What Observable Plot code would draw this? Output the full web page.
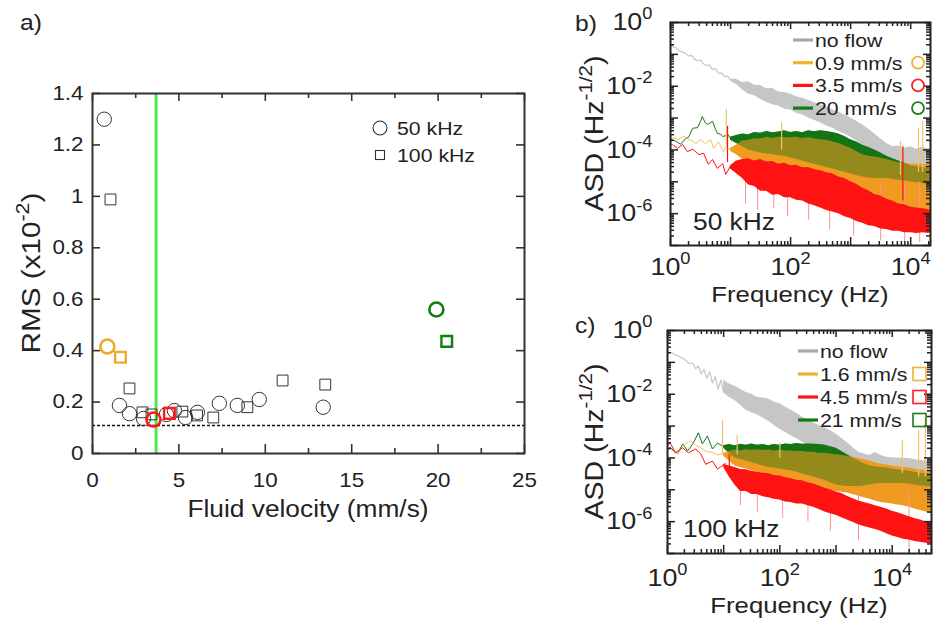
<!DOCTYPE html>
<html><head><meta charset="utf-8">
<script src="https://cdn.jsdelivr.net/npm/d3@7"></script>
<script src="https://cdn.jsdelivr.net/npm/@observablehq/plot@0.6"></script>
<style>
body{margin:0;background:#fff;}
#wrap{position:relative;width:933px;height:622px;overflow:hidden;background:#fff;}
#wrap svg{position:absolute;overflow:visible;}
</style></head><body><div id="wrap"></div>
<script>
const FONT = "'Liberation Sans', Arial, Helvetica, sans-serif";
const INK = "#222";
const SX = 1.12; // horizontal stretch of the lettering in the reference

// ---------------- Panel a data (RMS vs fluid velocity) ----------------
const vel50  = [0.68, 1.56, 2.14, 2.95, 4.28, 4.74, 5.38, 6.07, 7.34, 8.38, 9.65, 13.35];
const rms50  = [1.30, 0.187, 0.155, 0.136, 0.152, 0.167, 0.14, 0.16, 0.195, 0.187, 0.21, 0.18];
const vel100 = [1.04, 2.14, 2.89, 3.41, 5.2, 6.05, 6.99, 8.96, 11.0, 13.47];
const rms100 = [0.988, 0.253, 0.16, 0.152, 0.163, 0.148, 0.14, 0.18, 0.284, 0.268];
const selVel50  = [0.86, 3.53, 19.9];
const selRms50  = [0.416, 0.132, 0.56];
const selVel100 = [1.62, 4.45, 20.5];
const selRms100 = [0.374, 0.156, 0.436];
const selColors = ["#f0aa2a", "#ff1a1a", "#0f7f0f"];
const thresholdVelocity = 3.68;
const noiseFloorRMS = 0.109;
const xTicksA = [0, 5, 10, 15, 20, 25];
const xMinorA = [2.5, 7.5, 12.5, 17.5, 22.5];
const yTicksA = [0, 0.2, 0.4, 0.6, 0.8, 1, 1.2, 1.4];

// ---------------- Panel b data (50 kHz): log10(frequency), log10(ASD) ----------------
const bGrayLineF = [0,0.05,0.1,0.15,0.2,0.25,0.3,0.35,0.4,0.45,0.5,0.55,0.6,0.65,0.7,0.75,0.8,0.85,0.9,0.95,1.0];
const bGrayLineV = [-0.70,-0.78,-0.80,-0.90,-0.92,-0.97,-1.05,-1.03,-1.15,-1.20,-1.18,-1.30,-1.35,-1.33,-1.48,-1.45,-1.60,-1.58,-1.70,-1.68,-1.80];
const bBandF   = [1.0,1.1,1.2,1.3,1.4,1.5,1.6,1.7,1.8,1.9,2.0,2.1,2.2,2.3,2.4,2.5,2.6,2.7,2.8,2.9,3.0,3.1,3.2,3.3,3.4,3.5,3.6,3.7,3.8,3.9,4.0,4.1,4.2,4.3,4.33];
const bGrayHi  = [-1.78,-1.78,-1.88,-1.86,-1.97,-1.98,-2.08,-2.06,-2.18,-2.2,-2.25,-2.33,-2.38,-2.45,-2.52,-2.58,-2.65,-2.75,-2.82,-2.9,-3.0,-3.1,-3.22,-3.35,-3.5,-3.65,-3.8,-3.9,-3.88,-3.95,-3.9,-3.98,-3.92,-3.97,-3.95];
const bGrayLo  = [-1.85,-1.95,-2.12,-2.25,-2.3,-2.42,-2.5,-2.58,-2.62,-2.72,-2.75,-2.85,-2.9,-3.0,-3.08,-3.15,-3.25,-3.32,-3.42,-3.5,-3.6,-3.72,-3.85,-3.98,-4.1,-4.25,-4.4,-4.5,-4.6,-4.65,-4.7,-4.72,-4.75,-4.78,-4.8];
const bGreenLineF = [0,0.08,0.17,0.25,0.3,0.37,0.45,0.5,0.53,0.58,0.62,0.7,0.75,0.78,0.83,0.87,0.92,0.95,1.0,1.05];
const bGreenLineV = [-3.67,-3.72,-3.82,-3.65,-3.6,-3.32,-3.3,-3.1,-2.95,-3.15,-3.2,-3.1,-3.35,-3.48,-3.5,-3.58,-3.55,-3.5,-3.64,-3.6];
const bGreenHi = [-3.6,-3.55,-3.5,-3.52,-3.45,-3.48,-3.42,-3.46,-3.44,-3.4,-3.45,-3.42,-3.46,-3.4,-3.43,-3.4,-3.42,-3.45,-3.5,-3.58,-3.68,-3.75,-3.85,-3.92,-4.0,-4.1,-4.2,-4.28,-4.35,-4.42,-4.5,-4.52,-4.55,-4.58,-4.6];
const bGreenLo = [-3.7,-3.8,-3.9,-4.0,-4.05,-4.1,-4.12,-4.15,-4.18,-4.2,-4.25,-4.3,-4.35,-4.4,-4.45,-4.5,-4.55,-4.6,-4.65,-4.7,-4.75,-4.8,-4.85,-4.88,-4.9,-4.9,-4.9,-4.92,-4.95,-4.97,-5.0,-5.02,-5.05,-5.08,-5.1];
const bOrangeLineF = [0,0.07,0.12,0.22,0.3,0.36,0.42,0.5,0.58,0.67,0.72,0.8,0.88,0.93,1.0,1.05];
const bOrangeLineV = [-3.64,-3.62,-3.68,-3.57,-3.66,-3.72,-3.8,-3.68,-3.8,-3.68,-3.95,-3.75,-4.05,-3.9,-4.0,-3.95];
const bOrangeHi = [-3.95,-3.85,-3.72,-3.7,-3.65,-3.66,-3.6,-3.63,-3.6,-3.62,-3.62,-3.6,-3.64,-3.62,-3.66,-3.68,-3.7,-3.75,-3.8,-3.88,-3.95,-4.05,-4.15,-4.2,-4.22,-4.25,-4.3,-4.35,-4.4,-4.42,-4.45,-4.45,-4.45,-4.45,-4.45];
const bOrangeLo = [-4.05,-4.15,-4.3,-4.4,-4.45,-4.5,-4.55,-4.6,-4.65,-4.7,-4.75,-4.8,-4.85,-4.9,-4.95,-5.0,-5.05,-5.1,-5.15,-5.2,-5.25,-5.35,-5.45,-5.5,-5.6,-5.7,-5.8,-5.9,-6.0,-6.05,-6.1,-6.15,-6.2,-6.25,-6.3];
const bRedLineF = [0,0.03,0.12,0.2,0.28,0.38,0.47,0.55,0.63,0.7,0.78,0.87,0.92,1.0,1.05];
const bRedLineV = [-3.8,-3.83,-3.95,-3.83,-4.05,-3.98,-4.15,-4.1,-4.45,-4.3,-4.58,-4.43,-4.77,-4.5,-4.6];
const bRedHi = [-4.5,-4.35,-4.3,-4.28,-4.35,-4.3,-4.38,-4.36,-4.45,-4.42,-4.5,-4.48,-4.56,-4.55,-4.62,-4.65,-4.72,-4.75,-4.85,-4.9,-5.0,-5.08,-5.2,-5.28,-5.4,-5.45,-5.55,-5.6,-5.7,-5.72,-5.8,-5.82,-5.85,-5.88,-5.9];
const bRedLo = [-4.6,-4.75,-4.9,-5.1,-5.15,-5.3,-5.3,-5.42,-5.4,-5.5,-5.5,-5.58,-5.6,-5.7,-5.75,-5.82,-5.9,-5.95,-6.0,-6.1,-6.15,-6.25,-6.3,-6.38,-6.4,-6.48,-6.5,-6.55,-6.55,-6.6,-6.6,-6.62,-6.6,-6.62,-6.6];
const bSpikeF    = [0.93, 1.85, 3.83, 4.13, 4.2];
const bSpikeTop  = [-2.73, -3.16, -3.73, -3.32, -3.1];
const bSpikeBase = [-3.9, -4.0, -4.8, -4.7, -4.7];
const bRedSpikeF = [0.95, 3.87];
const bRedSpikeTop = [-3.26, -3.9];
const bRedSpikeBase = [-4.4, -5.6];
const bDropF   = [1.25, 1.45, 1.72, 1.95, 2.3, 2.65, 3.05, 3.5, 3.9, 4.15];
const bDropBot = [-5.7, -5.9, -5.85, -6.1, -6.2, -6.5, -6.7, -6.85, -6.9, -6.9];

// ---------------- Panel c data (100 kHz): log10(frequency), log10(ASD) ----------------
const cGrayLineF = [0,0.05,0.1,0.15,0.2,0.25,0.3,0.35,0.4,0.45,0.5,0.55,0.6,0.65,0.7,0.75,0.8,0.85,0.9,0.95,1.0];
const cGrayLineV = [-0.68,-0.69,-0.72,-0.78,-0.8,-0.86,-0.9,-0.98,-1.04,-1.02,-1.2,-1.12,-1.35,-1.22,-1.5,-1.3,-1.65,-1.45,-1.85,-1.55,-1.95];
const cBandF   = [1.0,1.1,1.2,1.3,1.4,1.5,1.6,1.7,1.8,1.9,2.0,2.1,2.2,2.3,2.4,2.5,2.6,2.7,2.8,2.9,3.0,3.1,3.2,3.3,3.4,3.5,3.6,3.7,3.8,3.9,4.0,4.1,4.2,4.3,4.4,4.5,4.6,4.7];
const cGrayHi  = [-1.55,-1.68,-1.75,-1.85,-1.95,-2.0,-2.1,-2.12,-2.15,-2.25,-2.3,-2.4,-2.5,-2.6,-2.72,-2.8,-2.9,-2.98,-3.05,-3.15,-3.25,-3.38,-3.52,-3.68,-3.82,-3.88,-3.92,-3.82,-3.92,-3.98,-4.0,-4.0,-4.02,-4.02,-4.05,-4.08,-4.1,-4.1];
const cGrayLo  = [-1.95,-2.1,-2.2,-2.35,-2.5,-2.58,-2.65,-2.75,-2.85,-2.98,-3.1,-3.2,-3.3,-3.4,-3.5,-3.6,-3.7,-3.8,-3.9,-3.98,-4.05,-4.12,-4.2,-4.25,-4.3,-4.35,-4.4,-4.35,-4.45,-4.55,-4.65,-4.68,-4.72,-4.76,-4.8,-4.88,-4.95,-5.0];
const cGreenLineF = [0,0.05,0.18,0.27,0.36,0.46,0.55,0.62,0.71,0.8,0.89,0.95,1.05];
const cGreenLineV = [-3.72,-3.68,-3.87,-3.56,-3.78,-3.53,-3.21,-3.56,-3.31,-3.72,-3.53,-3.6,-3.62];
const cGreenHi = [-3.62,-3.58,-3.62,-3.57,-3.6,-3.56,-3.6,-3.58,-3.62,-3.58,-3.6,-3.56,-3.58,-3.55,-3.57,-3.56,-3.57,-3.58,-3.6,-3.65,-3.7,-3.8,-3.9,-4.0,-4.1,-4.18,-4.25,-4.28,-4.3,-4.32,-4.35,-4.38,-4.4,-4.42,-4.45,-4.48,-4.5,-4.5];
const cGreenLo = [-3.7,-3.85,-4.0,-4.05,-4.1,-4.15,-4.2,-4.25,-4.3,-4.32,-4.35,-4.38,-4.4,-4.45,-4.5,-4.55,-4.6,-4.65,-4.7,-4.78,-4.85,-4.88,-4.9,-4.9,-4.9,-4.88,-4.85,-4.82,-4.8,-4.8,-4.8,-4.8,-4.8,-4.82,-4.85,-4.88,-4.9,-4.9];
const cOrangeLineF = [0,0.05,0.18,0.28,0.41,0.5,0.59,0.69,0.8,0.89,0.98,1.05];
const cOrangeLineV = [-3.75,-3.72,-3.87,-3.6,-3.46,-3.6,-3.68,-3.8,-3.82,-3.9,-3.87,-3.85];
const cOrangeHi = [-3.85,-3.8,-3.75,-3.78,-3.74,-3.76,-3.74,-3.77,-3.75,-3.78,-3.75,-3.78,-3.78,-3.8,-3.8,-3.82,-3.82,-3.85,-3.85,-3.88,-3.9,-3.92,-3.95,-3.98,-4.02,-4.06,-4.1,-4.15,-4.2,-4.22,-4.25,-4.28,-4.3,-4.32,-4.35,-4.38,-4.4,-4.45];
const cOrangeLo = [-3.95,-4.1,-4.25,-4.3,-4.35,-4.4,-4.45,-4.5,-4.55,-4.6,-4.65,-4.7,-4.75,-4.8,-4.85,-4.9,-4.95,-4.98,-5.0,-5.02,-5.05,-5.08,-5.1,-5.15,-5.2,-5.25,-5.3,-5.35,-5.4,-5.42,-5.45,-5.48,-5.5,-5.55,-5.6,-5.65,-5.7,-5.75];
const cRedLineF = [0,0.05,0.14,0.27,0.37,0.5,0.59,0.68,0.8,0.89,1.03];
const cRedLineV = [-3.6,-3.53,-3.84,-3.68,-3.84,-3.72,-3.87,-4.2,-4.1,-4.35,-4.17];
const cRedHi = [-4.2,-4.25,-4.3,-4.36,-4.37,-4.42,-4.45,-4.48,-4.5,-4.55,-4.57,-4.62,-4.65,-4.7,-4.72,-4.78,-4.82,-4.88,-4.95,-5.0,-5.07,-5.12,-5.2,-5.28,-5.35,-5.4,-5.45,-5.5,-5.55,-5.6,-5.67,-5.72,-5.78,-5.85,-5.9,-5.95,-6.0,-6.05];
const cRedLo = [-4.3,-4.6,-4.85,-5.05,-5.05,-5.15,-5.15,-5.22,-5.25,-5.3,-5.32,-5.38,-5.4,-5.45,-5.45,-5.5,-5.55,-5.62,-5.7,-5.75,-5.8,-5.88,-5.95,-6.02,-6.1,-6.15,-6.2,-6.25,-6.3,-6.38,-6.45,-6.5,-6.55,-6.58,-6.62,-6.65,-6.68,-6.7];
const cSpikeF    = [0.98, 1.24, 2.0, 4.18, 4.47, 4.59];
const cSpikeTop  = [-2.83, -3.3, -3.53, -3.46, -3.15, -2.74];
const cSpikeBase = [-3.9, -3.9, -4.0, -4.5, -4.6, -4.6];
const cRedSpikeF = [1.1];
const cRedSpikeTop = [-3.9];
const cRedSpikeBase = [-4.4];
const cDropF   = [1.3, 1.6, 2.05, 2.5, 2.9, 3.4, 4.3];
const cDropBot = [-5.5, -5.7, -5.9, -6.0, -6.3, -6.6, -6.9];

// legend texts
const legB = ["no flow", "0.9 mm/s", "3.5 mm/s", "20 mm/s"];
const legC = ["no flow", "1.6 mm/s", "4.5 mm/s", "21 mm/s"];

const GRAY = "#c6c6c6", GRAY_LEG = "#a8a8a8", GREEN = "#157515", ORANGE = "#ef9a20",
      ORANGE_LINE = "#f2bd5a", ORANGE_LEG = "#f0b030", RED = "#ff1212", SPIKE = "#f4c070", DROP = "#ff9090";
const legColors = [GRAY_LEG, ORANGE_LEG, RED, "#117a11"];
const markColors = [null, "#f2b134", "#ff2020", "#1a7f1a"];

const wrap = document.getElementById("wrap");

function richText(sel, {x, y, size, anchor = "start", rotate = 0, parts, fill = INK, supScale = 0.68}) {
  const t = sel.append("text").attr("font-size", size).attr("font-family", FONT)
    .attr("text-anchor", anchor).attr("fill", fill)
    .attr("transform", `translate(${x},${y})${rotate ? ` rotate(${rotate})` : ""} scale(${SX},1)`);
  let shift = 0;
  for (const p of parts) {
    const sup = typeof p !== "string";
    const ts = t.append("tspan").text(sup ? p.sup : p);
    const target = sup ? -size * 0.42 : 0;
    if (target !== shift) ts.attr("dy", target - shift);
    shift = target;
    if (sup) ts.attr("font-size", size * supScale);
  }
  return t;
}

// stretch Plot's own texts and turn "10^n" into a superscript
function finishTexts(svg, size) {
  d3.select(svg).selectAll("text").each(function () {
    const s = d3.select(this);
    const tr = s.attr("transform");
    if (tr) s.attr("transform", tr + ` scale(${SX},1)`);
    else {
      const x = +s.attr("x") || 0, y = +s.attr("y") || 0;
      s.attr("x", null).attr("y", null).attr("transform", `translate(${x},${y}) scale(${SX},1)`);
    }
    const m = /^10\^(.+)$/.exec(this.textContent);
    if (!m) return;
    s.selectAll("*").remove();
    this.textContent = "";
    s.append("tspan").text("10");
    s.append("tspan").attr("dy", -size * 0.45).attr("font-size", size * 0.68).text(m[1]);
  });
}

function place(svg, left, top) {
  svg.style.left = left + "px";
  svg.style.top = top + "px";
  wrap.appendChild(svg);
}

// ---------------- Panel a ----------------
{
  const W = 560, H = 540, ml = 92, mr = 36, mt = 93, mb = 87;
  const fw = W - ml - mr, fh = H - mt - mb;
  const d50 = vel50.map((v, i) => ({v, r: rms50[i]}));
  const d100 = vel100.map((v, i) => ({v, r: rms100[i]}));
  const s50 = selVel50.map((v, i) => ({v, r: selRms50[i], c: selColors[i]}));
  const s100 = selVel100.map((v, i) => ({v, r: selRms100[i], c: selColors[i]}));
  const svg = Plot.plot({
    width: W, height: H, marginLeft: ml, marginRight: mr, marginTop: mt, marginBottom: mb,
    style: {fontFamily: FONT, fontSize: "20px", color: INK, background: "transparent"},
    x: {domain: [0, 25]}, y: {domain: [0, 1.4]},
    marks: [
      Plot.ruleX([thresholdVelocity], {stroke: "#4ee84e", strokeWidth: 3}),
      Plot.ruleY([noiseFloorRMS], {stroke: "#111", strokeWidth: 1.4, strokeDasharray: "3,2"}),
      Plot.dot(d50, {x: "v", y: "r", r: 7.2, stroke: "#333", strokeWidth: 1, fill: "none"}),
      Plot.dot(d100, {x: "v", y: "r", r: 6.1, symbol: "square", stroke: "#333", strokeWidth: 1, fill: "none"}),
      Plot.dot(s50, {x: "v", y: "r", r: 7, stroke: "c", strokeWidth: 2.6, fill: "none"}),
      Plot.dot(s100, {x: "v", y: "r", r: 6, symbol: "square", stroke: "c", strokeWidth: 2.4, fill: "none"}),
      Plot.ruleX(xTicksA, {insetTop: fh - 9, stroke: "#333", strokeWidth: 1.6}),
      Plot.ruleX(xTicksA, {insetBottom: fh - 8, stroke: "#333", strokeWidth: 1.6}),
      Plot.ruleX(xMinorA, {insetTop: fh - 5, stroke: "#333", strokeWidth: 1.6}),
      Plot.ruleX(xMinorA, {insetBottom: fh - 5, stroke: "#333", strokeWidth: 1.6}),
      Plot.ruleY(yTicksA, {insetRight: fw - 8, stroke: "#333", strokeWidth: 1.6}),
      Plot.ruleY(yTicksA, {insetLeft: fw - 8, stroke: "#333", strokeWidth: 1.6}),
      Plot.frame({stroke: "#333", strokeWidth: 2}),
      Plot.axisX({ticks: xTicksA, tickSize: 0, tickPadding: 19, label: null, fontSize: 20}),
      Plot.axisY({ticks: yTicksA, tickSize: 0, tickPadding: 9, label: null, fontSize: 20, tickFormat: d => String(d)})
    ]
  });
  finishTexts(svg, 20);
  const s = d3.select(svg);
  richText(s, {x: 20, y: 30, size: 22, parts: ["a)"]});
  richText(s, {x: 40, y: mt + fh / 2, size: 26.5, anchor: "middle", rotate: -90, supScale: 0.72, parts: ["RMS (x10", {sup: "-2"}, ")"]});
  richText(s, {x: ml + fw / 2, y: 517, size: 23.5, anchor: "middle", parts: ["Fluid velocity (mm/s)"]});
  s.append("circle").attr("cx", 380).attr("cy", 128).attr("r", 7).attr("fill", "none").attr("stroke", "#333").attr("stroke-width", 1.1);
  s.append("rect").attr("x", 375.5).attr("y", 150.5).attr("width", 9).attr("height", 9).attr("fill", "none").attr("stroke", "#333").attr("stroke-width", 1.1);
  richText(s, {x: 397, y: 135, size: 19, parts: ["50 kHz"]});
  richText(s, {x: 397, y: 162, size: 19, parts: ["100 kHz"]});
  place(svg, 0, 0);
}

// ---------------- Spectrum panels ----------------
function spectrum(cfg) {
  const {W, H, ml, mr, mt, mb, xmax, d, letter, legend, marker, legX, legY, legStep, markX} = cfg;
  const fw = W - ml - mr, fh = H - mt - mb;
  const band = (F, hi, lo) => F.map((f, i) => ({f: 10 ** f, hi: 10 ** hi[i], lo: 10 ** lo[i]}));
  const line = (F, V) => F.map((f, i) => ({f: 10 ** f, v: 10 ** V[i]}));
  const seg = (F, top, base) => F.map((f, i) => ({f: 10 ** f, t: 10 ** top[i], b: 10 ** (Array.isArray(base) ? base[i] : base)}));
  const gB = band(d.F, d.grayHi, d.grayLo), grB = band(d.F, d.greenHi, d.greenLo),
        oB = band(d.F, d.orangeHi, d.orangeLo), rB = band(d.F, d.redHi, d.redLo);
  const xMaj = [1, 10, 100, 1e3, 1e4], xMin = [];
  for (let e = 0; e <= 4; e++) for (let k = 2; k < 10; k++) if (k * 10 ** e <= xmax) xMin.push(k * 10 ** e);
  const yMaj = [], yMin = [];
  for (let e = -7; e <= 0; e++) { yMaj.push(10 ** e); if (e < 0) for (let k = 2; k < 10; k++) yMin.push(k * 10 ** e); }
  const tk = {stroke: "#222", strokeWidth: 1.5};
  const TS = 24;
  const svg = Plot.plot({
    width: W, height: H, marginLeft: ml, marginRight: mr, marginTop: mt, marginBottom: mb,
    style: {fontFamily: FONT, fontSize: "20px", color: INK, background: "transparent"},
    x: {type: "log", domain: [1, xmax]},
    y: {type: "log", domain: [1e-7, 1]},
    marks: [
      Plot.areaY(gB, {x: "f", y1: "lo", y2: "hi", fill: GRAY}),
      Plot.line(line(d.grayLineF, d.grayLineV), {x: "f", y: "v", stroke: GRAY, strokeWidth: 1.2}),
      Plot.areaY(grB, {x: "f", y1: "lo", y2: "hi", fill: GREEN}),
      Plot.line(line(d.greenLineF, d.greenLineV), {x: "f", y: "v", stroke: GREEN, strokeWidth: 1}),
      Plot.areaY(oB, {x: "f", y1: "lo", y2: "hi", fill: ORANGE}),
      Plot.line(line(d.orangeLineF, d.orangeLineV), {x: "f", y: "v", stroke: ORANGE_LINE, strokeWidth: 1}),
      Plot.areaY(grB, {x: "f", y1: "lo", y2: "hi", fill: GREEN, fillOpacity: 0.42}),
      Plot.ruleX(seg(d.spikeF, d.spikeTop, d.spikeBase), {x: "f", y1: "b", y2: "t", stroke: SPIKE, strokeWidth: 1.2}),
      Plot.ruleX(seg(d.dropF, d.dropBot, -5.0), {x: "f", y1: "b", y2: "t", stroke: DROP, strokeWidth: 1}),
      Plot.areaY(rB, {x: "f", y1: "lo", y2: "hi", fill: RED}),
      Plot.line(line(d.redLineF, d.redLineV), {x: "f", y: "v", stroke: RED, strokeWidth: 1}),
      Plot.ruleX(seg(d.redSpikeF, d.redSpikeTop, d.redSpikeBase), {x: "f", y1: "b", y2: "t", stroke: RED, strokeWidth: 1.2}),
      Plot.ruleX(xMaj, {...tk, insetTop: fh - 8}),
      Plot.ruleX(xMaj, {...tk, insetBottom: fh - 7}),
      Plot.ruleX(xMin, {...tk, insetTop: fh - 4}),
      Plot.ruleX(xMin, {...tk, insetBottom: fh - 4}),
      Plot.ruleY(yMaj, {...tk, insetRight: fw - 8}),
      Plot.ruleY(yMaj, {...tk, insetLeft: fw - 7}),
      Plot.ruleY(yMin, {...tk, insetRight: fw - 4}),
      Plot.ruleY(yMin, {...tk, insetLeft: fw - 4}),
      Plot.frame({stroke: "#222", strokeWidth: 2}),
      Plot.axisX({ticks: [1, 100, 1e4], tickSize: 0, tickPadding: cfg.xPad, label: null, fontSize: TS, tickFormat: v => "10^" + Math.round(Math.log10(v))}),
      Plot.axisY({ticks: [1, 1e-2, 1e-4, 1e-6], tickSize: 0, tickPadding: cfg.yPad, label: null, fontSize: TS, tickFormat: v => "10^" + Math.round(Math.log10(v))})
    ]
  });
  finishTexts(svg, TS);
  const s = d3.select(svg);
  richText(s, {x: 15, y: cfg.letterY, size: 22, parts: [letter]});
  richText(s, {x: 43, y: mt + fh / 2, size: 25.5, anchor: "middle", rotate: -90, supScale: 0.72, parts: ["ASD (Hz", {sup: "-1/2"}, ")"]});
  richText(s, {x: ml + fw / 2, y: cfg.titleY, size: 23, anchor: "middle", parts: ["Frequency (Hz)"]});
  richText(s, {x: cfg.kx, y: cfg.ky, size: 23.5, parts: [cfg.khz]});
  legend.forEach((txt, i) => {
    const y = legY + i * legStep;
    s.append("line").attr("x1", legX).attr("x2", legX + 20).attr("y1", y).attr("y2", y)
      .attr("stroke", legColors[i]).attr("stroke-width", 3.2);
    richText(s, {x: legX + 22, y: y + 7, size: 19, parts: [txt]});
    if (i > 0) {
      if (marker === "circle") s.append("circle").attr("cx", markX).attr("cy", y).attr("r", 6)
        .attr("fill", "none").attr("stroke", markColors[i]).attr("stroke-width", 1.8);
      else s.append("rect").attr("x", markX - 6.5).attr("y", y - 6.5).attr("width", 13).attr("height", 13)
        .attr("fill", "none").attr("stroke", markColors[i]).attr("stroke-width", 1.6);
    }
  });
  return svg;
}

const svgB = spectrum({
  W: 373, H: 311, ml: 110, mr: 3, mt: 22, mb: 66, xmax: 10 ** 4.33, letter: "b)", letterY: 31,
  xPad: 12, yPad: 18, titleY: 302,
  khz: "50 kHz", kx: 133, ky: 230, legend: legB, marker: "circle", legX: 233, legY: 40, legStep: 22.7, markX: 358,
  d: {F: bBandF, grayHi: bGrayHi, grayLo: bGrayLo, grayLineF: bGrayLineF, grayLineV: bGrayLineV,
      greenHi: bGreenHi, greenLo: bGreenLo, greenLineF: bGreenLineF, greenLineV: bGreenLineV,
      orangeHi: bOrangeHi, orangeLo: bOrangeLo, orangeLineF: bOrangeLineF, orangeLineV: bOrangeLineV,
      redHi: bRedHi, redLo: bRedLo, redLineF: bRedLineF, redLineV: bRedLineV,
      spikeF: bSpikeF, spikeTop: bSpikeTop, spikeBase: bSpikeBase,
      redSpikeF: bRedSpikeF, redSpikeTop: bRedSpikeTop, redSpikeBase: bRedSpikeBase,
      dropF: bDropF, dropBot: bDropBot}
});
place(svgB, 560, 0);

const svgC = spectrum({
  W: 373, H: 311, ml: 107, mr: 2, mt: 19, mb: 69, xmax: 5e4, letter: "c)", letterY: 22,
  xPad: 15, yPad: 15, titleY: 302,
  khz: "100 kHz", kx: 123, ky: 226, legend: legC, marker: "square", legX: 238, legY: 40, legStep: 23, markX: 359.5,
  d: {F: cBandF, grayHi: cGrayHi, grayLo: cGrayLo, grayLineF: cGrayLineF, grayLineV: cGrayLineV,
      greenHi: cGreenHi, greenLo: cGreenLo, greenLineF: cGreenLineF, greenLineV: cGreenLineV,
      orangeHi: cOrangeHi, orangeLo: cOrangeLo, orangeLineF: cOrangeLineF, orangeLineV: cOrangeLineV,
      redHi: cRedHi, redLo: cRedLo, redLineF: cRedLineF, redLineV: cRedLineV,
      spikeF: cSpikeF, spikeTop: cSpikeTop, spikeBase: cSpikeBase,
      redSpikeF: cRedSpikeF, redSpikeTop: cRedSpikeTop, redSpikeBase: cRedSpikeBase,
      dropF: cDropF, dropBot: cDropBot}
});
place(svgC, 560, 311);
</script></body></html>
